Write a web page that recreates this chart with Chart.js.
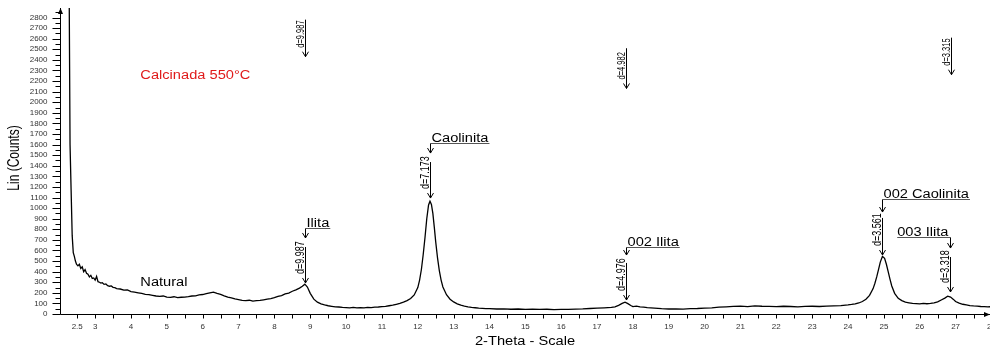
<!DOCTYPE html>
<html>
<head>
<meta charset="utf-8">
<script src="https://cdn.jsdelivr.net/npm/chart.js@4.4.0/dist/chart.umd.min.js"></script>
<style>
  html, body { margin: 0; padding: 0; background: #fff; }
  #wrap { width: 990px; height: 352px; }
</style>
</head>
<body>
<div id="wrap"><canvas id="xrd" width="990" height="352"></canvas></div>
<script>
// scan: 2-theta (deg) and counts
const twoTheta = [
  2.27, 2.30, 2.33, 2.36, 2.39, 2.42, 2.45, 2.48, 2.52, 2.56,
  2.60, 2.64, 2.68, 2.72, 2.76, 2.80, 2.84, 2.88, 2.92, 2.96,
  3.00, 3.04, 3.08, 3.12, 3.16, 3.20, 3.25, 3.30, 3.35, 3.40,
  3.45, 3.50, 3.55, 3.60, 3.70, 3.80, 3.90, 4.00, 4.10, 4.20,
  4.30, 4.40, 4.50, 4.60, 4.70, 4.80, 4.90, 5.00, 5.10, 5.20,
  5.30, 5.40, 5.50, 5.60, 5.70, 5.80, 5.90, 6.00, 6.10, 6.20,
  6.30, 6.40, 6.50, 6.60, 6.70, 6.80, 6.90, 7.00, 7.10, 7.20,
  7.30, 7.40, 7.50, 7.60, 7.70, 7.80, 7.90, 8.00, 8.10, 8.20,
  8.30, 8.40, 8.50, 8.60, 8.70, 8.78, 8.85, 8.92, 9.00, 9.10,
  9.20, 9.30, 9.40, 9.50, 9.60, 9.70, 9.80, 9.90, 10.0, 10.1,
  10.2, 10.3, 10.4, 10.5, 10.6, 10.7, 10.8, 10.9, 11.0, 11.1,
  11.2, 11.3, 11.4, 11.5, 11.6, 11.7, 11.8, 11.9, 12.0, 12.05,
  12.1, 12.15, 12.2, 12.25, 12.3, 12.34, 12.38, 12.42, 12.46, 12.5,
  12.55, 12.6, 12.65, 12.7, 12.8, 12.9, 13.0, 13.1, 13.2, 13.3,
  13.4, 13.5, 13.6, 13.7, 13.8, 13.9, 14.0, 14.2, 14.4, 14.6,
  14.8, 15.0, 15.2, 15.4, 15.6, 15.8, 16.0, 16.2, 16.4, 16.6,
  16.8, 17.0, 17.2, 17.4, 17.5, 17.6, 17.7, 17.78, 17.86, 17.94,
  18.0, 18.1, 18.2, 18.3, 18.4, 18.6, 18.8, 19.0, 19.2, 19.4,
  19.6, 19.8, 20.0, 20.2, 20.4, 20.6, 20.8, 21.0, 21.2, 21.4,
  21.6, 21.8, 22.0, 22.2, 22.4, 22.6, 22.8, 23.0, 23.2, 23.4,
  23.6, 23.8, 24.0, 24.1, 24.2, 24.3, 24.4, 24.5, 24.6, 24.7,
  24.75, 24.8, 24.85, 24.9, 24.96, 25.02, 25.07, 25.12, 25.17, 25.22,
  25.3, 25.4, 25.5, 25.6, 25.7, 25.8, 25.9, 26.0, 26.1, 26.2,
  26.3, 26.4, 26.5, 26.6, 26.7, 26.78, 26.86, 26.94, 27.0, 27.1,
  27.2, 27.3, 27.4, 27.5, 27.6, 27.7, 27.8, 27.9, 28.0
];
const counts = [
  3400, 1600, 1170, 740, 580, 545, 500, 470, 455, 470,
  430, 445, 400, 420, 385, 375, 350, 365, 335, 340,
  320, 355, 305, 300, 292, 296, 280, 284, 268, 262,
  265, 252, 248, 240, 236, 225, 228, 212, 206, 200,
  194, 186, 182, 176, 170, 166, 170, 160, 157, 163,
  154, 158, 160, 164, 170, 172, 180, 184, 192, 200,
  206, 194, 186, 172, 160, 152, 142, 136, 128, 126,
  130, 121, 126, 128, 134, 140, 146, 154, 166, 174,
  190, 198, 215, 228, 245, 262, 282, 255, 195, 140,
  112, 95, 86, 78, 73, 68, 66, 62, 60, 58,
  63, 57, 61, 58, 63, 60, 65, 66, 69, 72,
  78, 84, 92, 100, 112, 126, 146, 180, 250, 320,
  420, 560, 720, 900, 1030, 1065, 1035, 950, 820, 680,
  530, 410, 320, 255, 182, 140, 114, 96, 84, 75,
  68, 62, 59, 55, 53, 50, 51, 47, 49, 45,
  47, 44, 46, 43, 45, 42, 44, 43, 46, 48,
  52, 55, 58, 62, 68, 82, 100, 112, 98, 80,
  70, 74, 68, 64, 60, 55, 50, 47, 49, 46,
  50, 52, 56, 58, 64, 68, 72, 74, 70, 76,
  73, 72, 70, 73, 71, 68, 72, 73, 71, 75,
  77, 80, 86, 90, 96, 104, 118, 140, 176, 240,
  290, 350, 420, 490, 545, 525, 470, 400, 330, 265,
  195, 148, 126, 112, 106, 100, 98, 96, 100, 97,
  101, 106, 114, 132, 150, 168, 160, 138, 118, 102,
  92, 86, 80, 76, 74, 71, 70, 68, 69
];

// axis tick labels
const xTickLabels = [2.5, 3, 4, 5, 6, 7, 8, 9, 10, 11, 12, 13, 14, 15, 16,
  17, 18, 19, 20, 21, 22, 23, 24, 25, 26, 27, 28];
const yTickLabels = [0, 100, 200, 300, 400, 500, 600, 700, 800, 900, 1000,
  1100, 1200, 1300, 1400, 1500, 1600, 1700, 1800, 1900, 2000, 2100, 2200,
  2300, 2400, 2500, 2600, 2700, 2800];

// d-spacing markers along the top
const topTheta = [8.86, 17.8, 26.86];
const topLabels = ['d=9.987', 'd=4.982', 'd=3.315'];
const topFrom = [2780, 2510, 2610];
const topTo = [2430, 2130, 2260];

// labelled peaks
const peakNames = ['Ilita', 'Caolinita', '002 Ilita', '002 Caolinita', '003 Ilita'];
const peakTheta = [8.86, 12.33, 17.8, 24.96, 26.84];
const peakD = ['d=9.987', 'd=7.173', 'd=4.976', 'd=3.561', 'd=3.318'];
const nameLevel = [812, 1615, 633, 1086, 727];
const nameTip = [718, 1520, 557, 963, 623];
const dFrom = [633, 1435, 482, 907, 538];
const dTo = [293, 1095, 132, 557, 208];
const nameSide = ['right', 'right', 'right', 'right', 'left'];

// free notes
const noteTexts = ['Calcinada 550°C', 'Natural'];
const noteTheta = [4.26, 4.26];
const noteCounts = [2248, 293];

const SX = 1.22; // the original picture is stretched sideways
const FONT = '"Liberation Sans", Arial, sans-serif';

function stretchText(ctx, text, x, y, size, align, rotated) {
  ctx.save();
  ctx.translate(x, y);
  ctx.scale(rotated ? 1.35 : SX, 1);
  if (rotated) ctx.rotate(-Math.PI / 2);
  ctx.font = size + 'px ' + FONT;
  ctx.textAlign = align;
  ctx.fillText(text, 0, 0);
  ctx.restore();
}

function textWidth(ctx, text, size) {
  ctx.font = size + 'px ' + FONT;
  return ctx.measureText(text).width * SX;
}

function arrowHead(ctx, x, y) {
  ctx.beginPath();
  ctx.moveTo(x - 3, y - 5);
  ctx.lineTo(x, y);
  ctx.lineTo(x + 3, y - 5);
  ctx.stroke();
}

function vArrow(ctx, x, y1, y2) {
  ctx.beginPath();
  ctx.moveTo(x, y1);
  ctx.lineTo(x, y2);
  ctx.stroke();
  arrowHead(ctx, x, y2);
}

const xrdDecor = {
  id: 'xrdDecor',
  afterDraw(chart) {
    const ctx = chart.ctx;
    const xs = chart.scales.x, ys = chart.scales.y;
    const a = chart.chartArea;
    const X = v => xs.getPixelForValue(v);
    const Y = v => ys.getPixelForValue(v);
    const L = Math.round(a.left) + 0.5, B = Math.round(a.bottom) + 0.5;

    ctx.save();
    ctx.strokeStyle = '#000';
    ctx.fillStyle = '#000';
    ctx.lineWidth = 1;

    // axes
    ctx.beginPath();
    ctx.moveTo(L, B);
    ctx.lineTo(L, a.top);
    ctx.moveTo(L, B);
    ctx.lineTo(a.right, B);
    ctx.stroke();
    ctx.beginPath();
    ctx.moveTo(L - 2.5, a.top + 6);
    ctx.lineTo(L, a.top);
    ctx.lineTo(L + 2.5, a.top + 6);
    ctx.fill();
    ctx.beginPath();
    ctx.moveTo(a.right - 6, B - 2.5);
    ctx.lineTo(a.right, B);
    ctx.lineTo(a.right - 6, B + 2.5);
    ctx.fill();

    // y ticks
    ctx.beginPath();
    for (let v = 0; v <= 2850; v += 50) {
      const y = Math.round(Y(v)) + 0.5;
      const len = v % 100 === 0 ? 8 : 5;
      ctx.moveTo(L - len, y);
      ctx.lineTo(L, y);
    }
    // x ticks every half degree
    for (let t = 2.5; t <= 28; t += 0.5) {
      const x = Math.round(X(t)) + 0.5;
      ctx.moveTo(x, B);
      ctx.lineTo(x, B + 4);
    }
    ctx.stroke();

    ctx.fillStyle = '#333';
    ctx.textBaseline = 'middle';
    ctx.font = '8px ' + FONT;
    ctx.textAlign = 'right';
    yTickLabels.forEach(v => ctx.fillText(String(v), L - 13, Y(v)));
    ctx.textAlign = 'center';
    xTickLabels.forEach(v => ctx.fillText(String(v), X(v), 326.5));

    // axis titles
    ctx.fillStyle = '#000';
    ctx.textBaseline = 'middle';
    stretchText(ctx, '2-Theta - Scale', 525, 342, 12, 'center', false);
    stretchText(ctx, 'Lin (Counts)', 15, 158, 12, 'center', true);

    // top d-spacing markers
    ctx.textBaseline = 'alphabetic';
    topTheta.forEach((t, i) => {
      const x = Math.round(X(t)) + 0.5;
      vArrow(ctx, x, Y(topFrom[i]), Y(topTo[i]));
      stretchText(ctx, topLabels[i], x - 2, Y(topTo[i]) - 9, 7.5, 'left', true);
    });

    // peak labels with bracket arrows
    peakTheta.forEach((t, i) => {
      const x = Math.round(X(t)) + 0.5;
      const yu = Math.round(Y(nameLevel[i])) + 0.5;
      const w = textWidth(ctx, peakNames[i], 12);
      let tx, ux1, ux2;
      if (nameSide[i] === 'right') {
        tx = x + 1; ux1 = x; ux2 = x + w + 2;
      } else {
        tx = x - w - 2; ux1 = tx; ux2 = x;
      }
      stretchText(ctx, peakNames[i], tx, yu - 2, 12, 'left', false);
      ctx.strokeStyle = '#555';
      ctx.beginPath();
      ctx.moveTo(ux1, yu);
      ctx.lineTo(ux2, yu);
      ctx.stroke();
      ctx.strokeStyle = '#000';
      vArrow(ctx, x, yu, Y(nameTip[i]));
      vArrow(ctx, x, Y(dFrom[i]), Y(dTo[i]));
      stretchText(ctx, peakD[i], x - 2, Y(dTo[i]) - 9, 9, 'left', true);
    });

    // notes
    ctx.textBaseline = 'middle';
    noteTexts.forEach((txt, i) => {
      ctx.fillStyle = i === 0 ? '#e01b1b' : '#000';
      stretchText(ctx, txt, X(noteTheta[i]), Y(noteCounts[i]), 12, 'left', false);
    });
    ctx.restore();
  }
};

const points = twoTheta.map((t, i) => ({ x: t, y: counts[i] }));

new Chart(document.getElementById('xrd').getContext('2d'), {
  type: 'line',
  data: {
    datasets: [{
      data: points,
      borderColor: '#000',
      borderWidth: 1.3,
      pointRadius: 0,
      tension: 0,
      fill: false
    }]
  },
  options: {
    responsive: false,
    animation: false,
    parsing: false,
    layout: { padding: { left: 60, right: 0, top: 8, bottom: 38 } },
    plugins: { legend: { display: false }, tooltip: { enabled: false } },
    scales: {
      x: { type: 'linear', min: 2.02, max: 27.96, display: false },
      y: { type: 'linear', min: 0, max: 2890, display: false }
    }
  },
  plugins: [xrdDecor]
});
</script>
</body>
</html>
